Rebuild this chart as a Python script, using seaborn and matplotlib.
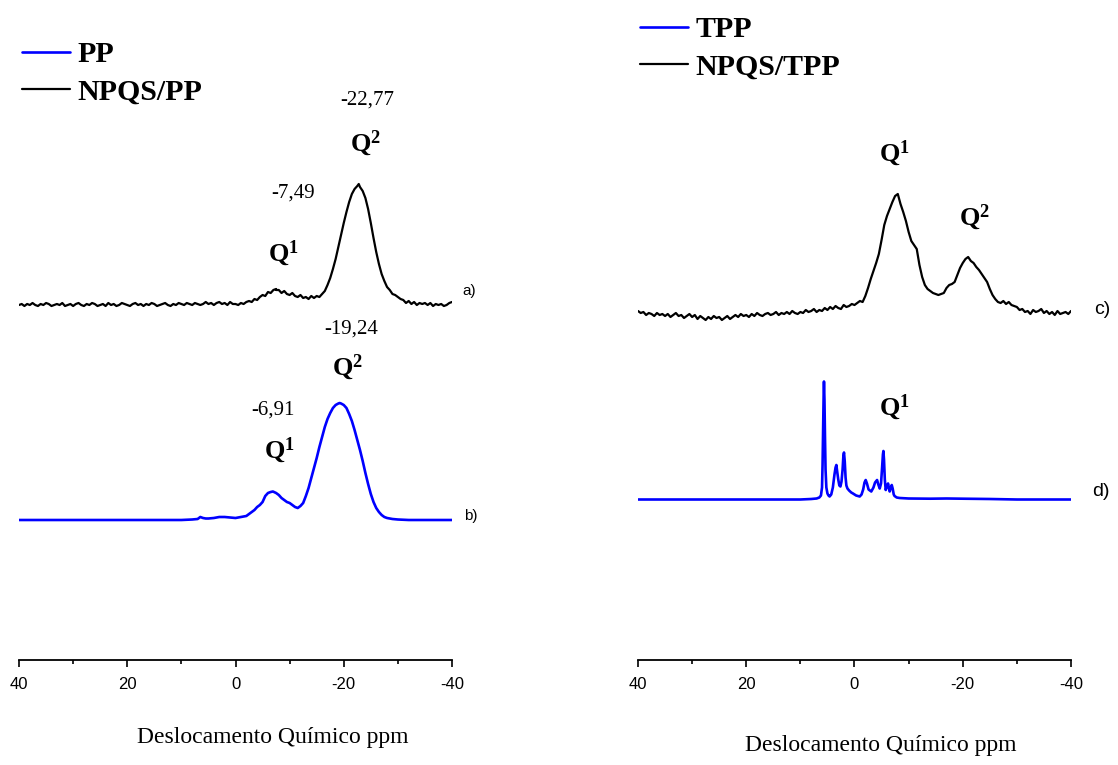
import numpy as np
import pandas as pd
import matplotlib
matplotlib.use("Agg")
import matplotlib.pyplot as plt
import seaborn as sns

sns.set_style("white")
plt.rcParams["font.family"] = ["Liberation Sans", "DejaVu Sans"]
plt.rcParams["mathtext.fontset"] = "custom"
plt.rcParams["mathtext.rm"] = "Liberation Serif"
plt.rcParams["mathtext.bf"] = "Liberation Serif:bold"
plt.rcParams["text.color"] = "black"
plt.rcParams["axes.labelcolor"] = "black"
plt.rcParams["xtick.color"] = "black"

# ---------------------------------------------------------------- data
# 31P MAS-NMR spectra, chemical shift axis in ppm (40 -> -40, 0.5 ppm step)
PPM_GRID = np.linspace(40, -40, 161)

# a) NPQS/PP
NPQS_PP = [
    0, 1, -1, 1, 0, 2, 0, -1, 1, 0,
    2, 1, -1, 0, 1, 0, 2, -1, 0, 1,
    -1, 1, 2, 0, -1, 1, 0, 2, 1, -1,
    0, 1, -1, 2, 0, 1, -1, 0, 2, 1,
    0, -1, 1, 2, 0, 1, -1, 1, 0, 2,
    1, -1, 0, 1, 2, 0, -1, 1, 0, 2,
    1, 0, 2, 1, 0, 2, 1, 0, 1, 3,
    1, 2, 0, 2, 3, 1, 2, 0, 3, 1,
    1, 0, 2, 1, 3, 4, 3, 6, 5, 8,
    10, 9, 13, 12, 15, 15, 15, 12, 14, 11,
    10, 12, 9, 8, 10, 7, 8, 6, 9, 7,
    9, 8, 11, 14, 20, 27, 36, 46, 58, 70,
    82, 93, 103, 111, 116, 119, 118, 114, 107, 96,
    82, 67, 53, 41, 31, 24, 18, 15, 11, 10,
    8, 6, 5, 2, 4, 1, 3, 0, 2, 1,
    2, 0, 2, -1, 1, 0, 1, -1, 0, 2,
    3,
]
NPQS_PP_PEAKS = [-7.49, -22.77]
NPQS_PP_PEAK_INT = [16, 121]

# b) PP
PP_PPM = [40, 30, 20, 15, 10, 8, 7, 6.5, 6, 5.5, 5, 4, 3, 2, 1, 0, -1, -2,
          -2.5, -3, -3.5, -4, -4.5, -5, -5.5, -6, -6.5, -7.5, -8, -8.5, -9,
          -9.5, -10, -10.5, -11, -11.5, -12, -12.5, -13, -13.5, -14, -14.5,
          -15, -15.5, -16, -16.5, -17, -17.5, -18, -18.5, -19, -19.5, -20,
          -20.5, -21, -21.5, -22, -22.5, -23, -23.5, -24, -24.5, -25, -25.5,
          -26, -26.5, -27, -27.5, -28, -29, -30, -32, -36, -40]
PP_INT = [0, 0, 0, 0, 0, 0.5, 1, 3, 2, 1.5, 1.5, 2, 3, 3, 2.5, 2, 3, 4,
          6, 8, 10, 13, 15, 18, 24, 27, 28, 27, 25, 22, 20,
          18, 17, 15, 13, 12, 14, 17, 24, 32, 42, 52,
          62, 73, 83, 93, 101, 107, 112, 115, 116.5, 116.5, 115,
          112, 106, 99, 90, 80, 70, 59, 47, 36, 26, 18,
          12, 8, 5, 3, 2, 1, 0.5, 0, 0, 0]
PP_PEAKS = [-6.91, -19.24]
PP_PEAK_INT = [28.5, 117]

# c) NPQS/TPP
NPQS_TPP = [
    4, 2, 3, 0, 2, 1, -1, 2, 0, 1,
    -1, 1, -2, 0, 2, -1, 0, -3, -1, 1,
    -2, 0, -4, -1, -3, -5, -2, -4, -1, -3,
    -2, -5, -3, -1, -4, -2, 0, -2, 1, -1,
    0, -2, 1, -1, 2, 0, -1, 1, 2, 0,
    1, 3, 0, 2, 1, 3, 1, 4, 2, 1,
    3, 2, 5, 3, 4, 6, 3, 5, 4, 7,
    5, 8, 6, 9, 7, 6, 10, 8, 9, 11,
    10, 12, 14, 13, 19, 27, 36, 44, 52, 61,
    75, 90, 99, 106, 113, 119, 121, 111, 103, 94,
    83, 74, 70, 66, 50, 38, 30, 26, 24, 22,
    21, 20, 21, 22, 27, 30, 31, 33, 40, 47,
    52, 56, 58, 54, 52, 48, 45, 41, 37, 33,
    26, 20, 16, 13, 12, 14, 11, 13, 10, 9,
    8, 5, 6, 3, 4, 1, 5, 3, 4, 6,
    2, 4, 1, 3, 0, 4, 1, 2, 3, 1,
    4,
]

# d) TPP
TPP_PPM = [40, 30, 20, 10, 8, 7, 6.5, 6.2, 6.0, 5.9, 5.8, 5.7, 5.64, 5.55,
           5.45, 5.35, 5.2, 5.0, 4.8, 4.6, 4.3, 4.0, 3.7, 3.5, 3.35, 3.2,
           3.0, 2.8, 2.6, 2.4, 2.2, 2.05, 1.94, 1.8, 1.65, 1.5, 1.3, 1.0,
           0.6, 0.28, -0.3, -0.96, -1.3, -1.6, -1.85, -2.07, -2.3, -2.6,
           -3.1, -3.5, -3.8, -4.17, -4.4, -4.66, -4.9, -5.1, -5.25, -5.34,
           -5.45, -5.6, -5.77, -6.0, -6.2, -6.35, -6.5, -6.7, -6.88, -7.05,
           -7.25, -7.4, -7.8, -8.35, -10, -14, -17, -20, -25, -30, -40]
TPP_INT = [0, 0, 0, 0, 0.5, 1, 2, 4, 12, 35, 70, 105, 118, 100,
           62, 30, 12, 6, 4, 3, 5, 12, 25, 32, 34.5, 28,
           20, 14, 13, 18, 30, 44, 47, 38, 22, 14, 11, 9,
           7, 6, 4, 3, 5, 10, 17, 19.5, 16, 10,
           8, 12, 17, 19.5, 15, 11, 16, 32, 45, 48.5,
           40, 20, 9.5, 13, 16, 12, 8, 12, 14.5, 11,
           5, 3.5, 2, 1.5, 1, 0.8, 1, 0.8, 0.5, 0, 0]

XTICKS = [40, 20, 0, -20, -40]
XTICKS_MINOR = [30, 10, -10, -30]
XLABEL = "Deslocamento Químico ppm"

# ---------------------------------------------------------------- layout
W, H = 1118, 765
fig = plt.figure(figsize=(W / 100, H / 100), dpi=100)
ax_l = fig.add_axes([19 / W, 105 / H, 433 / W, 660 / H])
ax_r = fig.add_axes([638 / W, 105 / H, 433 / W, 660 / H])

BLUE = "#0000ff"
BLACK = "#000000"
SERIF = "Liberation Serif"


def frame(x, y, base, px=None, py=None):
    x = np.asarray(x, float)
    y = np.asarray(y, float)
    if px is not None:
        x = np.concatenate([x, px])
        y = np.concatenate([y, py])
    order = np.argsort(-x, kind="stable")
    return pd.DataFrame({"ppm": x[order], "signal": y[order] + base})


def ppm_label(v):
    return f"{v:.2f}".replace(".", ",")


def style_axis(ax):
    ax.set_xlim(40, -40)
    ax.set_ylim(0, 660)
    for s in ("left", "right", "top"):
        ax.spines[s].set_visible(False)
    ax.spines["bottom"].set_color("black")
    ax.spines["bottom"].set_linewidth(1.3)
    ax.set_yticks([])
    ax.set_ylabel("")
    ax.set_xticks(XTICKS)
    ax.set_xticklabels([str(t) for t in XTICKS])
    ax.set_xticks(XTICKS_MINOR, minor=True)
    ax.tick_params(axis="x", which="major", direction="out", length=5,
                   width=1.2, pad=7, labelsize=12, colors="black",
                   bottom=True)
    ax.tick_params(axis="x", which="minor", direction="out", length=3,
                   width=1.2, bottom=True, colors="black")
    ax.set_facecolor("none")


# left panel: PP / NPQS-PP
sns.lineplot(data=frame(PP_PPM, PP_INT, 140, PP_PEAKS, PP_PEAK_INT),
             x="ppm", y="signal", color=BLUE, lw=1.9, sort=False,
             estimator=None, label="PP", ax=ax_l)
sns.lineplot(data=frame(PPM_GRID, NPQS_PP, 355, NPQS_PP_PEAKS, NPQS_PP_PEAK_INT),
             x="ppm", y="signal", color=BLACK, lw=1.6, sort=False,
             estimator=None, label="NPQS/PP", ax=ax_l)

# right panel: TPP / NPQS-TPP
sns.lineplot(data=frame(TPP_PPM, TPP_INT, 160.5), x="ppm", y="signal",
             color=BLUE, lw=1.9, sort=False, estimator=None, label="TPP",
             ax=ax_r)
sns.lineplot(data=frame(PPM_GRID, NPQS_TPP, 345), x="ppm", y="signal",
             color=BLACK, lw=1.6, sort=False, estimator=None,
             label="NPQS/TPP", ax=ax_r)

for ax in (ax_l, ax_r):
    style_axis(ax)

leg_kw = dict(loc="upper left", bbox_transform=fig.transFigure, frameon=False,
              borderpad=0, borderaxespad=0, handlelength=1.6,
              handletextpad=0.25, labelspacing=0.36, labelcolor="black",
              prop={"family": SERIF, "weight": "bold", "size": 21.5})
ax_l.legend(bbox_to_anchor=(22 / W, 1 - 41 / H), **leg_kw)
ax_r.legend(bbox_to_anchor=(640 / W, 1 - 16 / H), **leg_kw)

# peak annotations
num_kw = dict(family=SERIF, fontsize=15, ha="center", va="center")
q_kw = dict(fontsize=19, ha="center", va="center")
ax_l.text(-24.4, 560, ppm_label(NPQS_PP_PEAKS[1]), **num_kw)
ax_l.text(-24.0, 517, r"$\mathbf{Q^{2}}$", **q_kw)
ax_l.text(-10.7, 467, ppm_label(NPQS_PP_PEAKS[0]), **num_kw)
ax_l.text(-8.8, 407, r"$\mathbf{Q^{1}}$", **q_kw)
ax_l.text(-21.4, 331, ppm_label(PP_PEAKS[1]), **num_kw)
ax_l.text(-20.7, 293, r"$\mathbf{Q^{2}}$", **q_kw)
ax_l.text(-7.0, 250, ppm_label(PP_PEAKS[0]), **num_kw)
ax_l.text(-8.1, 210, r"$\mathbf{Q^{1}}$", **q_kw)
ax_l.text(-41.9, 369, "a)", fontsize=11, ha="left", va="center", clip_on=False)
ax_l.text(-42.3, 144, "b)", fontsize=11, ha="left", va="center", clip_on=False)

ax_r.text(-7.4, 507, r"$\mathbf{Q^{1}}$", **q_kw)
ax_r.text(-22.2, 443, r"$\mathbf{Q^{2}}$", **q_kw)
ax_r.text(-7.4, 253, r"$\mathbf{Q^{1}}$", **q_kw)
ax_r.text(-44.2, 350, "c)", fontsize=14, ha="left", va="center", clip_on=False)
ax_r.text(-43.9, 168, "d)", fontsize=14, ha="left", va="center", clip_on=False)

# axis titles
for ax, (lx, ly) in ((ax_l, (0.587, -0.117)), (ax_r, (0.561, -0.129))):
    ax.set_xlabel(XLABEL, family=SERIF, fontsize=17, color="black")
    ax.xaxis.set_label_coords(lx, ly)
    ax.xaxis.label.set_va("center")

fig.savefig("out.png", dpi=100)
